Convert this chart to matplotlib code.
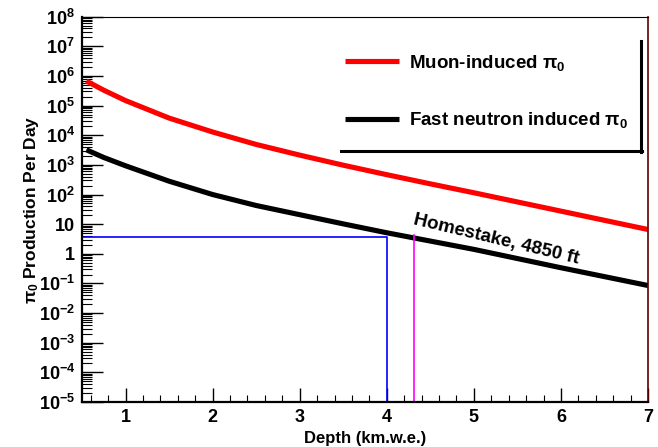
import matplotlib
matplotlib.use('Agg')
import matplotlib.pyplot as plt
from matplotlib.lines import Line2D
from matplotlib.ticker import LogLocator, MultipleLocator, FixedLocator, NullFormatter

plt.rcParams['font.family'] = ['Liberation Sans', 'DejaVu Sans']
plt.rcParams['font.weight'] = 'bold'
plt.rcParams['mathtext.fontset'] = 'custom'
plt.rcParams['mathtext.rm'] = 'Liberation Sans:bold'
plt.rcParams['mathtext.bf'] = 'Liberation Sans:bold'
plt.rcParams['mathtext.it'] = 'Liberation Sans:bold'

# depth in km.w.e. and log10 of pi0 production per day
depth = [0.55, 0.75, 1.0, 1.5, 2.0, 2.5, 3.0, 3.5, 4.0, 4.5, 5.0, 5.5, 6.0, 6.5, 7.0]
muon_log = [5.83, 5.52, 5.17, 4.58, 4.11, 3.69, 3.33, 2.99, 2.67, 2.36, 2.06, 1.75, 1.44, 1.13, 0.82]
neutron_log = [3.51, 3.25, 2.97, 2.45, 2.00, 1.63, 1.32, 1.01, 0.71, 0.43, 0.15, -0.16, -0.47, -0.77, -1.07]
muon = [10 ** v for v in muon_log]
neutron = [10 ** v for v in neutron_log]

# marker lines: 4 km.w.e. reference and Homestake 4850 ft
ref_depth = 4.0
ref_rate = 3.76
homestake_depth = 4.31
homestake_rate = 10 ** 0.62

ymin, ymax = 1e-5, 1e8
ytick_vals = [10.0 ** e for e in range(-5, 9)]
ytick_labels = []
for e in range(-5, 9):
    if e == 0:
        ytick_labels.append('1')
    elif e == 1:
        ytick_labels.append('10')
    else:
        ytick_labels.append(r'$10^{%d}$' % e)

fig = plt.figure(figsize=(6.58, 4.47), dpi=100)
ax = fig.add_axes([82 / 658, 1 - 402 / 447, 566 / 658, (402 - 16.7) / 447])

ax.plot(depth, muon, color='#ff0000', lw=3.7, solid_capstyle='butt', label=r'Muon-induced $\pi_0$')
ax.plot(depth, neutron, color='black', lw=3.7, solid_capstyle='butt', label=r'Fast neutron induced $\pi_0$')

ax.plot([0.5, ref_depth, ref_depth], [ref_rate, ref_rate, ymin], color='#0000ff', lw=1.2)
ax.plot([homestake_depth, homestake_depth], [ymin, homestake_rate], color='#ff00ff', lw=1.2)
ax.axhline(ymin, color='#ff0000', lw=2.0, zorder=1)

ax.text(5.26, 3.0, 'Homestake, 4850 ft', rotation=-13.5, ha='center', va='center',
        fontsize=13.5, fontweight='bold', rotation_mode='anchor')

ax.set_yscale('log')
ax.set_xlim(0.5, 7)
ax.set_ylim(ymin, ymax)

ax.yaxis.set_major_locator(FixedLocator(ytick_vals))
ax.set_yticklabels(ytick_labels)
ax.yaxis.set_minor_locator(LogLocator(base=10, subs=range(2, 10), numticks=40))
ax.yaxis.set_minor_formatter(NullFormatter())
ax.xaxis.set_major_locator(MultipleLocator(1))
ax.xaxis.set_minor_locator(MultipleLocator(0.2))

ax.tick_params(axis='both', which='both', direction='in', right=False, top=False, labelsize=13)
ax.tick_params(axis='y', which='major', length=15, width=1.0, pad=5)
ax.tick_params(axis='y', which='minor', length=7, width=0.8)
ax.tick_params(axis='x', which='major', length=10, width=1.0, pad=5)
ax.tick_params(axis='x', which='minor', length=5, width=0.8)
for lab in ax.get_xticklabels() + ax.get_yticklabels():
    lab.set_fontweight('bold')

for side in ['left', 'bottom']:
    ax.spines[side].set_linewidth(1.6)
ax.spines['top'].set_linewidth(0.8)
ax.spines['right'].set_linewidth(1.2)
ax.spines['right'].set_color('#600000')

ax.set_xlabel('Depth (km.w.e.)', fontsize=12, fontweight='bold', labelpad=4)
ax.set_ylabel(r'$\pi_0$ Production Per Day', fontsize=12.5, fontweight='bold', labelpad=-2)

leg = ax.legend(loc='upper left', bbox_to_anchor=((345 - 82) / 566, (402 - 53) / 385.3),
                frameon=False, fontsize=13.5, handlelength=2.9, handletextpad=0.5,
                labelspacing=2.0, borderpad=0, borderaxespad=0)
for t in leg.get_texts():
    t.set_fontweight('bold')

# legend shadow (right and bottom edges)
fig.add_artist(Line2D([641 / 658, 641 / 658], [1 - 41 / 447, 1 - 152 / 447], color='black', lw=2.2,
                      transform=fig.transFigure))
fig.add_artist(Line2D([341 / 658, 642 / 658], [1 - 151 / 447, 1 - 151 / 447], color='black', lw=2.2,
                      transform=fig.transFigure))

fig.savefig('out.png', dpi=100)
